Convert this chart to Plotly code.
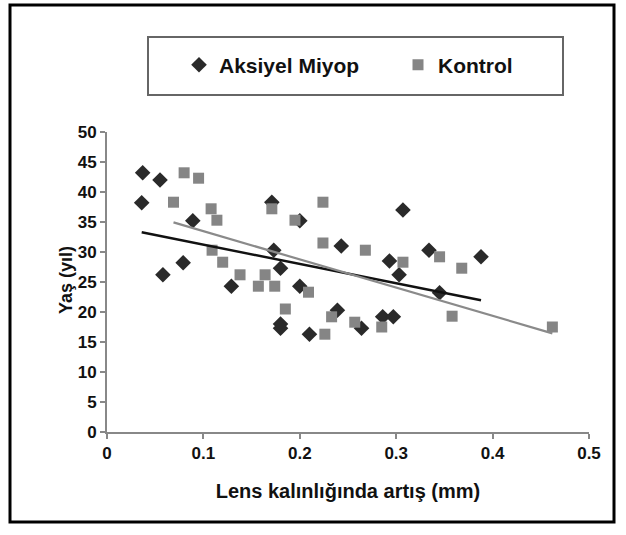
import numpy as np
import plotly.graph_objects as go

# Aksiyel Miyop (diamonds)
am_x = [0.037, 0.055, 0.036, 0.058, 0.079, 0.089, 0.129, 0.171, 0.173, 0.180, 0.180, 0.180,
        0.200, 0.200, 0.210, 0.239, 0.243, 0.264, 0.286, 0.297, 0.293, 0.303, 0.307, 0.334,
        0.345, 0.388]
am_y = [43.2, 42.0, 38.2, 26.2, 28.2, 35.2, 24.3, 38.3, 30.3, 27.3, 18.0, 17.3,
        35.2, 24.3, 16.3, 20.3, 31.0, 17.3, 19.2, 19.2, 28.5, 26.2, 37.0, 30.3,
        23.2, 29.2]

# Kontrol (squares)
k_x = [0.069, 0.080, 0.095, 0.108, 0.114, 0.109, 0.120, 0.138, 0.157, 0.164, 0.174, 0.171,
       0.185, 0.195, 0.209, 0.224, 0.224, 0.226, 0.233, 0.257, 0.268, 0.285, 0.307, 0.345,
       0.358, 0.368, 0.462]
k_y = [38.3, 43.2, 42.3, 37.2, 35.3, 30.3, 28.3, 26.2, 24.3, 26.2, 24.3, 37.2,
       20.5, 35.3, 23.3, 38.3, 31.5, 16.3, 19.2, 18.3, 30.3, 17.5, 28.3, 29.2,
       19.3, 27.3, 17.5]

x_ticks = [0, 0.1, 0.2, 0.3, 0.4, 0.5]
y_ticks = list(range(0, 55, 5))

FONT = "Liberation Sans, Arial, sans-serif"


def trend(xs, ys):
    a, b = np.polyfit(xs, ys, 1)
    xr = [min(xs), max(xs)]
    return xr, [a * v + b for v in xr]


fig = go.Figure()
fig.add_trace(go.Scatter(x=am_x, y=am_y, mode="markers", name="Aksiyel Miyop",
                         legend="legend",
                         marker=dict(symbol="diamond", size=12, color="#2a2a2a")))
fig.add_trace(go.Scatter(x=k_x, y=k_y, mode="markers", name="Kontrol",
                         legend="legend2",
                         marker=dict(symbol="square", size=11, color="#858585")))
tx, ty = trend(am_x, am_y)
fig.add_trace(go.Scatter(x=tx, y=ty, mode="lines", showlegend=False,
                         line=dict(color="#111111", width=2.5)))
tx, ty = trend(k_x, k_y)
fig.add_trace(go.Scatter(x=tx, y=ty, mode="lines", showlegend=False,
                         line=dict(color="#8a8a8a", width=2.2)))

leg_common = dict(orientation="h", xanchor="left", yanchor="middle",
                  bgcolor="rgba(0,0,0,0)", font=dict(size=21, weight="bold"),
                  itemwidth=30)

fig.update_layout(
    width=626, height=535,
    margin=dict(l=107, r=37, t=132, b=103),
    paper_bgcolor="white", plot_bgcolor="white",
    font=dict(family=FONT, size=17, color="#111111", weight="bold"),
    showlegend=True,
    legend=dict(x=(179 - 107) / 482, y=1.223, **leg_common),
    legend2=dict(x=(398 - 107) / 482, y=1.223, **leg_common),
    xaxis=dict(range=[0, 0.5], tickvals=x_ticks, ticktext=[str(v) for v in x_ticks],
               showgrid=False, zeroline=False, showline=True, linecolor="#888888",
               linewidth=2, ticks="outside", tickcolor="#888888", ticklen=5,
               tickwidth=2, title=dict(text="Lens kalınlığında artış (mm)", standoff=22)),
    yaxis=dict(range=[0, 50], tickvals=y_ticks, showgrid=False, zeroline=False,
               showline=True, linecolor="#888888", linewidth=2, ticks="outside",
               tickcolor="#888888", ticklen=5, tickwidth=2),
    annotations=[
        dict(text="Yaş (yıl)", xref="paper", yref="paper",
             x=(66 - 107) / 482, y=(432 - 280) / 300, textangle=-90,
             showarrow=False, xanchor="center", yanchor="middle",
             font=dict(size=18, weight="bold")),
    ],
    shapes=[
        dict(type="rect", xref="paper", yref="paper",
             x0=(148 - 107) / 482, x1=(563 - 107) / 482,
             y0=(432 - 95) / 300, y1=(432 - 37) / 300,
             line=dict(color="#666666", width=2), fillcolor="rgba(0,0,0,0)"),
        dict(type="rect", xref="paper", yref="paper",
             x0=(10 - 107) / 482, x1=(614 - 107) / 482,
             y0=(432 - 522) / 300, y1=(432 - 5) / 300,
             line=dict(color="black", width=3), fillcolor="rgba(0,0,0,0)"),
    ],
)

fig.write_html("out.html")
